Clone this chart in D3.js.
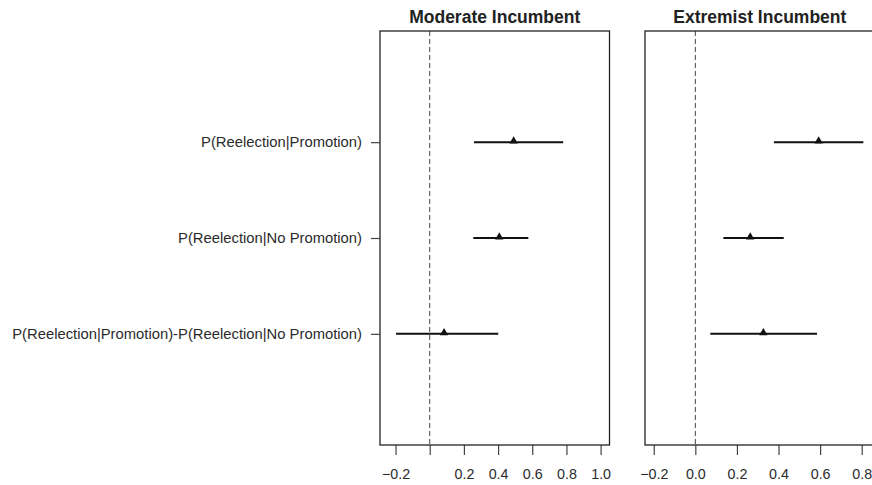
<!doctype html>
<html lang="en">
<head>
<meta charset="utf-8">
<title>Reelection estimates</title>
<script src="https://cdn.jsdelivr.net/npm/d3@7/dist/d3.min.js"></script>
<style>
	body { margin: 0; background: #fff; }
	svg { display: block; font-family: "Liberation Sans", Arial, Helvetica, sans-serif; }
	.tick text { fill: #2b2b2b; }
</style>
</head>
<body>
<div id="chart"></div>
<script>
	// quantities, top to bottom
	var rows = ["P(Reelection|Promotion)", "P(Reelection|No Promotion)",
		"P(Reelection|Promotion)-P(Reelection|No Promotion)"];
	var rowPos = [3, 2, 1];

	var panels = ["Moderate Incumbent", "Extremist Incumbent"];

	// point estimates and interval ends per panel
	var moderateEst = [0.491, 0.407, 0.084];
	var moderateLo = [0.259, 0.255, -0.197];
	var moderateHi = [0.781, 0.577, 0.401];

	var extremistEst = [0.593, 0.264, 0.327];
	var extremistLo = [0.378, 0.135, 0.072];
	var extremistHi = [0.808, 0.425, 0.585];

	var moderateTicks = [-0.2, 0, 0.2, 0.4, 0.6, 0.8, 1.0];
	var moderateTickLabels = ["\u22120.2", "", "0.2", "0.4", "0.6", "0.8", "1.0"];
	var extremistTicks = [-0.2, 0, 0.2, 0.4, 0.6, 0.8];
	var extremistTickLabels = ["\u22120.2", "0.0", "0.2", "0.4", "0.6", "0.8"];

	var width = 872, height = 485;
	var plotTop = 31, plotBottom = 445;

	var svg = d3.select("#chart").append("svg")
		.attr("width", width).attr("height", height);

	var y = d3.scaleLinear().domain([-0.16, 4.16]).range([plotBottom, plotTop]);

	var panelDefs = [
		{ title: panels[0], est: moderateEst, lo: moderateLo, hi: moderateHi,
			ticks: moderateTicks, labels: moderateTickLabels,
			x: d3.scaleLinear().domain([-0.291, 1.052]).range([380, 609.5]) },
		{ title: panels[1], est: extremistEst, lo: extremistLo, hi: extremistHi,
			ticks: extremistTicks, labels: extremistTickLabels,
			x: d3.scaleLinear().domain([-0.242, 0.862]).range([645, 874.6]) }
	];

	panelDefs.forEach(function(p, pi) {
		var x = p.x;
		var x0 = x.range()[0], x1 = x.range()[1];
		var g = svg.append("g");

		// title
		g.append("text")
			.attr("x", (x0 + x1) / 2)
			.attr("y", 23)
			.attr("text-anchor", "middle")
			.attr("font-weight", "bold")
			.attr("font-size", "17.5px")
			.attr("fill", "#222")
			.text(p.title);

		// zero reference line
		g.append("line")
			.attr("x1", x(0)).attr("x2", x(0))
			.attr("y1", plotTop).attr("y2", plotBottom)
			.attr("stroke", "#444")
			.attr("stroke-width", 1)
			.attr("stroke-dasharray", "5,3");

		// intervals
		var data = rows.map(function(r, i) {
			return { pos: rowPos[i], est: p.est[i], lo: p.lo[i], hi: p.hi[i] };
		});

		g.selectAll(".ci")
			.data(data)
			.enter().append("line")
			.attr("class", "ci")
			.attr("x1", function(d) { return x(d.lo); })
			.attr("x2", function(d) { return x(d.hi); })
			.attr("y1", function(d) { return y(d.pos); })
			.attr("y2", function(d) { return y(d.pos); })
			.attr("stroke", "#111")
			.attr("stroke-width", 2);

		g.selectAll(".pt")
			.data(data)
			.enter().append("path")
			.attr("class", "pt")
			.attr("d", d3.symbol().type(d3.symbolTriangle).size(30))
			.attr("transform", function(d) {
				return "translate(" + x(d.est) + "," + (y(d.pos) - 1) + ")";
			})
			.attr("fill", "#111");

		// x axis
		var ax = g.append("g")
			.attr("transform", "translate(0," + plotBottom + ")")
			.call(d3.axisBottom(x).tickValues(p.ticks)
				.tickFormat(function(d, i) { return p.labels[i]; })
				.tickSize(10).tickPadding(14));
		ax.select(".domain").remove();
		ax.attr("font-size", null).attr("font-family", null);
		ax.selectAll(".tick line").attr("stroke", "#444").attr("stroke-width", 1.2);
		ax.selectAll(".tick text").style("font-size", "14.3px");

		// frame
		g.append("rect")
			.attr("x", x0).attr("y", plotTop)
			.attr("width", x1 - x0).attr("height", plotBottom - plotTop)
			.attr("fill", "none")
			.attr("stroke", "#222")
			.attr("stroke-width", 1.3);

		// row labels on the first panel only
		if (pi === 0) {
			var ay = g.append("g")
				.attr("transform", "translate(" + x0 + ",0)")
				.call(d3.axisLeft(y).tickValues(rowPos)
					.tickFormat(function(d, i) { return rows[i]; })
					.tickSize(9).tickPadding(9));
			ay.select(".domain").remove();
			ay.attr("font-size", null).attr("font-family", null);
			ay.selectAll(".tick line").attr("stroke", "#444").attr("stroke-width", 1.2);
			ay.selectAll(".tick text").style("font-size", "14.8px");
		}
	});
</script>
</body>
</html>
